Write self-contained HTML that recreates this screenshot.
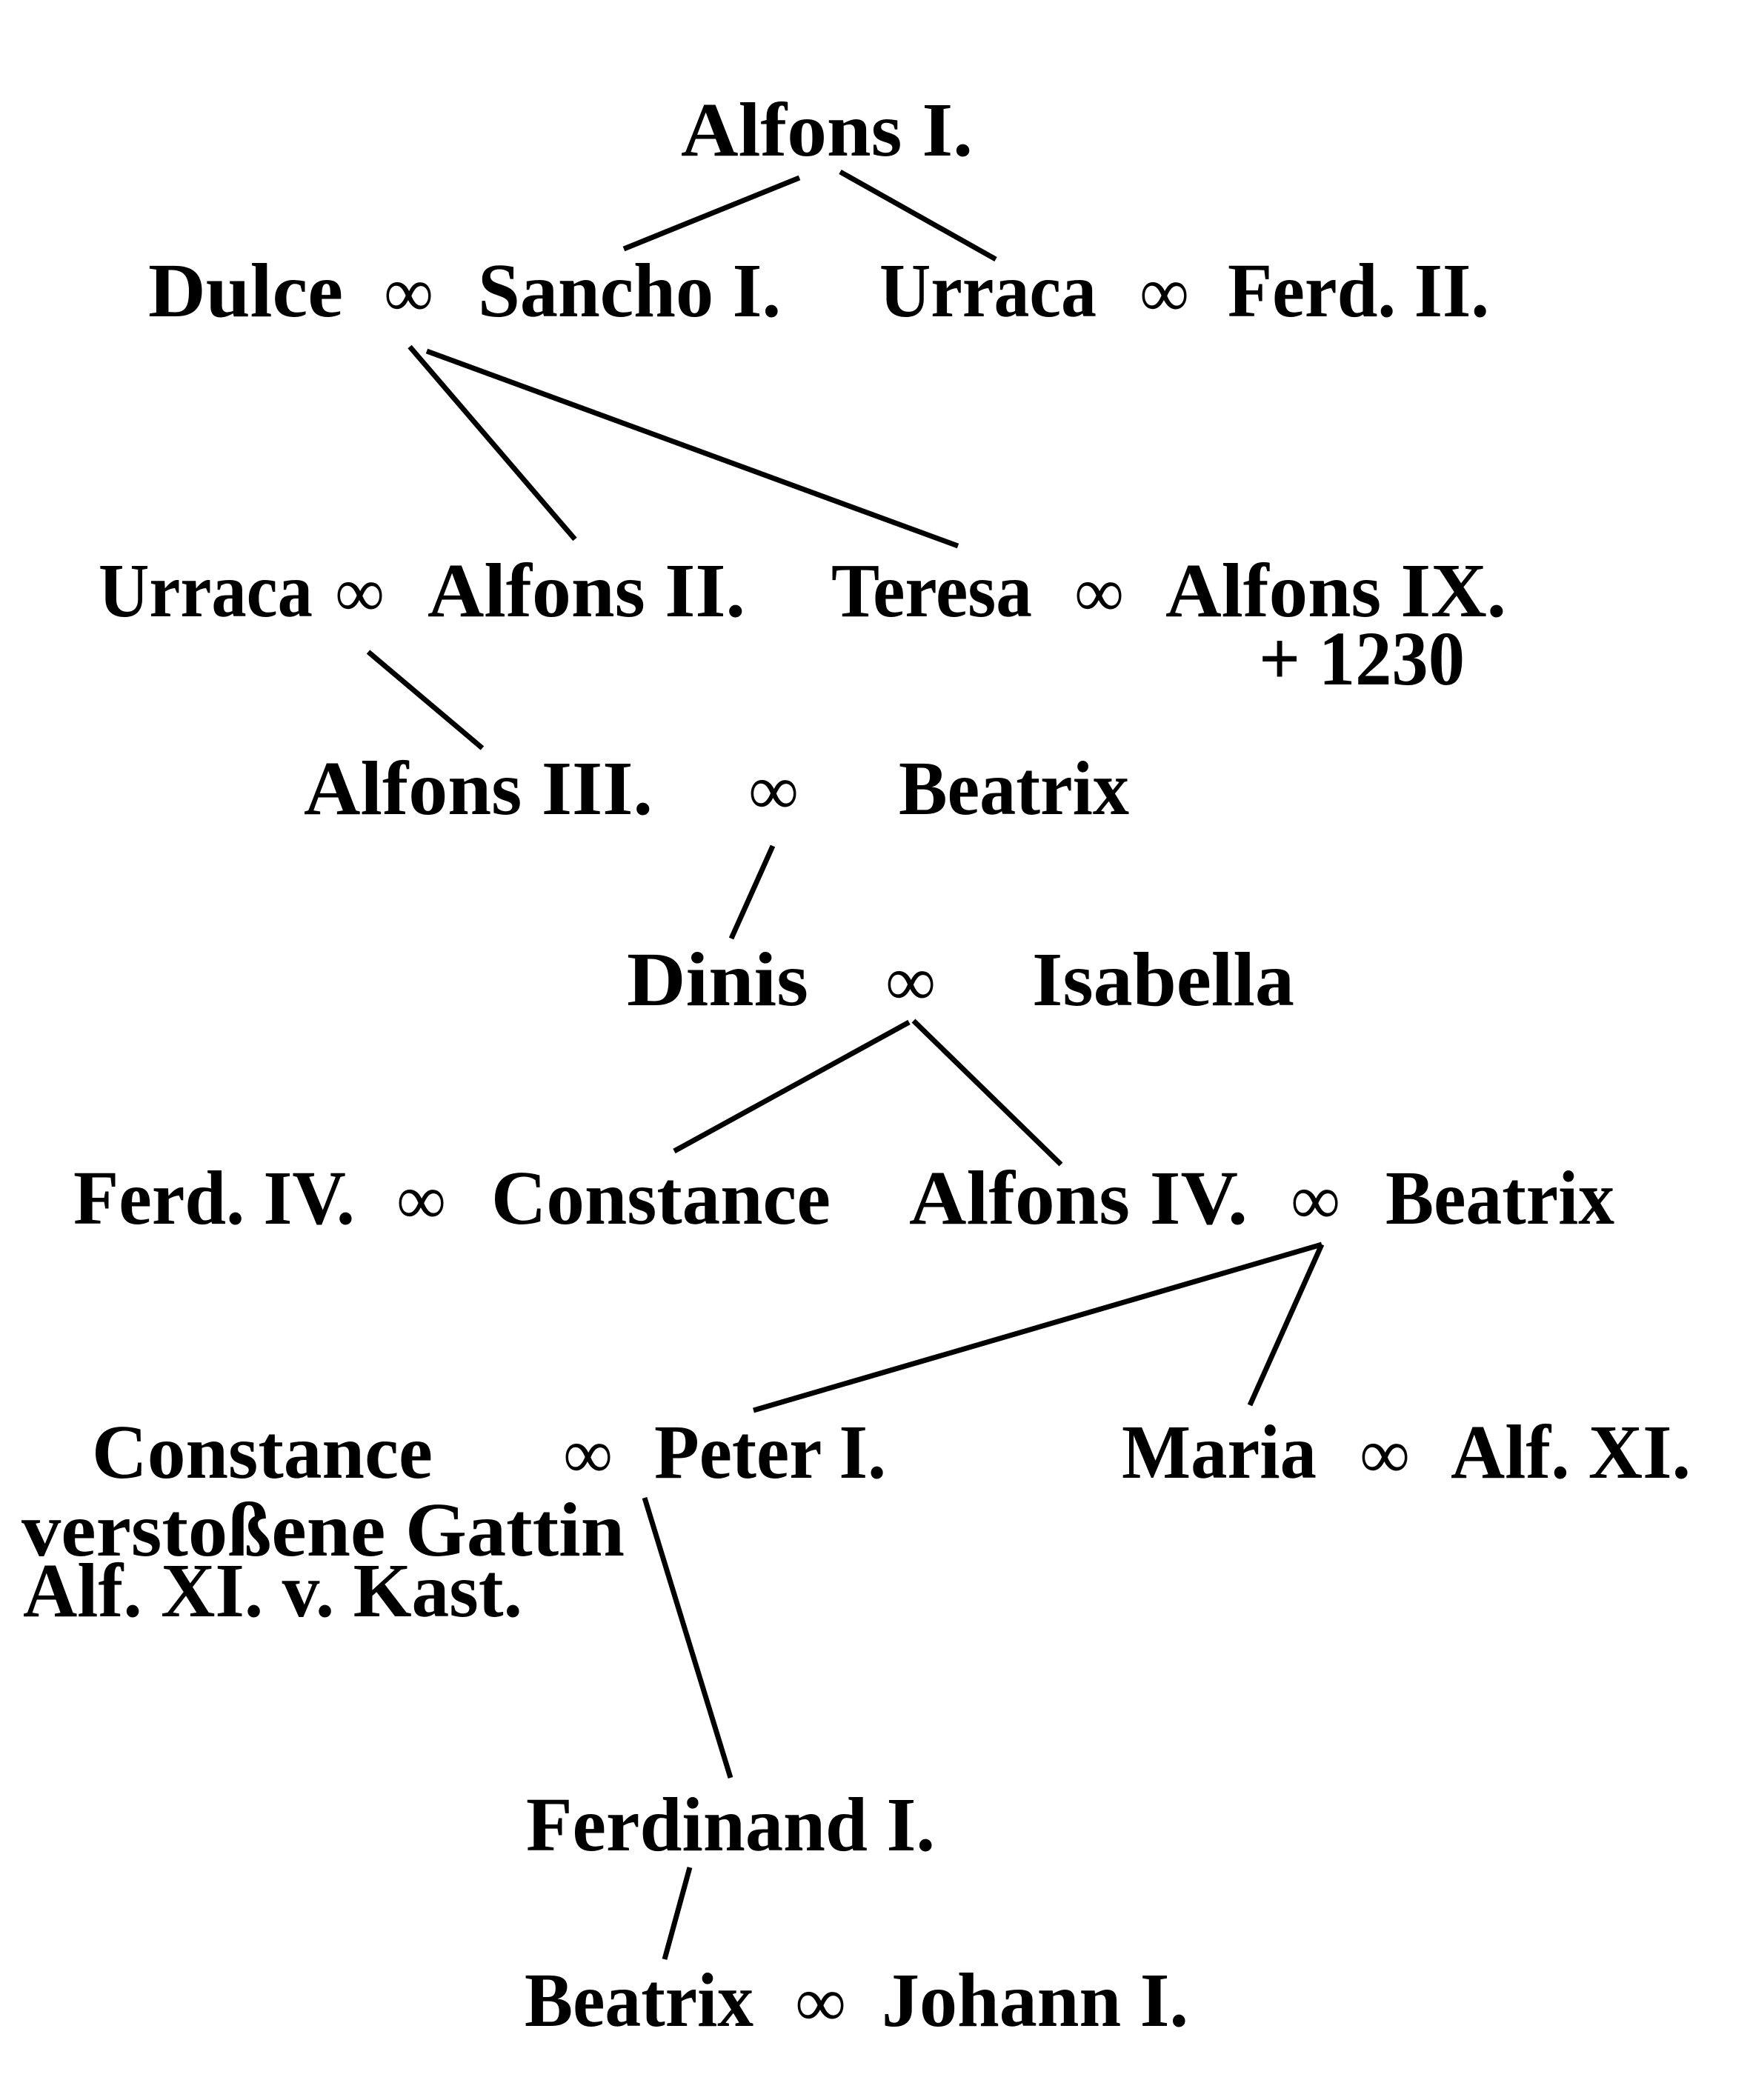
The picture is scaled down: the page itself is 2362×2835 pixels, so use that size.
<!DOCTYPE html>
<html>
<head>
<meta charset="utf-8">
<style>
  html, body { margin: 0; padding: 0; background: #ffffff; }
  svg { display: block; }
  .t { font-family: "Liberation Serif", "DejaVu Serif", serif; font-weight: bold; font-size: 104px; fill: #000; }
  .m { font-family: "Liberation Serif", "DejaVu Serif", serif; font-weight: normal; font-size: 96px; fill: #000; }
  line { stroke: #000; stroke-width: 7; stroke-linecap: butt; }
</style>
</head>
<body>
<svg width="2362" height="2835" viewBox="0 0 2362 2835" xmlns="http://www.w3.org/2000/svg">
  <rect x="0" y="0" width="2362" height="2835" fill="#ffffff"/>

  <!-- Row 1 -->
  <text class="t" x="919" y="210" textLength="394" lengthAdjust="spacingAndGlyphs">Alfons I.</text>

  <!-- Row 2 -->
  <text class="t" x="200" y="427" textLength="263" lengthAdjust="spacingAndGlyphs">Dulce</text>
  <text class="m" x="518" y="427" textLength="67" lengthAdjust="spacingAndGlyphs">∞</text>
  <text class="t" x="645" y="427" textLength="409" lengthAdjust="spacingAndGlyphs">Sancho I.</text>
  <text class="t" x="1187" y="427" textLength="293" lengthAdjust="spacingAndGlyphs">Urraca</text>
  <text class="m" x="1538" y="427" textLength="67" lengthAdjust="spacingAndGlyphs">∞</text>
  <text class="t" x="1657" y="427" textLength="353" lengthAdjust="spacingAndGlyphs">Ferd. II.</text>

  <!-- Row 3 -->
  <text class="t" x="133" y="832" textLength="289" lengthAdjust="spacingAndGlyphs">Urraca</text>
  <text class="m" x="452" y="832" textLength="67" lengthAdjust="spacingAndGlyphs">∞</text>
  <text class="t" x="577" y="832" textLength="429" lengthAdjust="spacingAndGlyphs">Alfons II.</text>
  <text class="t" x="1122" y="832" textLength="271" lengthAdjust="spacingAndGlyphs">Teresa</text>
  <text class="m" x="1450" y="832" textLength="67" lengthAdjust="spacingAndGlyphs">∞</text>
  <text class="t" x="1573" y="832" textLength="460" lengthAdjust="spacingAndGlyphs">Alfons IX.</text>
  <text class="t" x="1699" y="924" textLength="278" lengthAdjust="spacingAndGlyphs">+ 1230</text>

  <!-- Row 4 -->
  <text class="t" x="410" y="1099" textLength="471" lengthAdjust="spacingAndGlyphs">Alfons III.</text>
  <text class="m" x="1010" y="1099" textLength="68" lengthAdjust="spacingAndGlyphs">∞</text>
  <text class="t" x="1213" y="1099" textLength="311" lengthAdjust="spacingAndGlyphs">Beatrix</text>

  <!-- Row 5 -->
  <text class="t" x="846" y="1357" textLength="245" lengthAdjust="spacingAndGlyphs">Dinis</text>
  <text class="m" x="1195" y="1357" textLength="68" lengthAdjust="spacingAndGlyphs">∞</text>
  <text class="t" x="1393" y="1357" textLength="354" lengthAdjust="spacingAndGlyphs">Isabella</text>

  <!-- Row 6 -->
  <text class="t" x="99" y="1652" textLength="380" lengthAdjust="spacingAndGlyphs">Ferd. IV.</text>
  <text class="m" x="535" y="1652" textLength="67" lengthAdjust="spacingAndGlyphs">∞</text>
  <text class="t" x="663" y="1652" textLength="458" lengthAdjust="spacingAndGlyphs">Constance</text>
  <text class="t" x="1227" y="1652" textLength="457" lengthAdjust="spacingAndGlyphs">Alfons IV.</text>
  <text class="m" x="1742" y="1652" textLength="67" lengthAdjust="spacingAndGlyphs">∞</text>
  <text class="t" x="1870" y="1652" textLength="309" lengthAdjust="spacingAndGlyphs">Beatrix</text>

  <!-- Row 7 -->
  <text class="t" x="124" y="1995" textLength="460" lengthAdjust="spacingAndGlyphs">Constance</text>
  <text class="m" x="760" y="1995" textLength="67" lengthAdjust="spacingAndGlyphs">∞</text>
  <text class="t" x="883" y="1995" textLength="313" lengthAdjust="spacingAndGlyphs">Peter I.</text>
  <text class="t" x="1514" y="1995" textLength="263" lengthAdjust="spacingAndGlyphs">Maria</text>
  <text class="m" x="1835" y="1995" textLength="68" lengthAdjust="spacingAndGlyphs">∞</text>
  <text class="t" x="1958" y="1995" textLength="324" lengthAdjust="spacingAndGlyphs">Alf. XI.</text>
  <text class="t" x="29" y="2100" textLength="814" lengthAdjust="spacingAndGlyphs">verstoßene Gattin</text>
  <text class="t" x="31" y="2182" textLength="674" lengthAdjust="spacingAndGlyphs">Alf. XI. v. Kast.</text>

  <!-- Row 8 -->
  <text class="t" x="710" y="2498" textLength="552" lengthAdjust="spacingAndGlyphs">Ferdinand I.</text>

  <!-- Row 9 -->
  <text class="t" x="708" y="2735" textLength="309" lengthAdjust="spacingAndGlyphs">Beatrix</text>
  <text class="m" x="1073" y="2735" textLength="69" lengthAdjust="spacingAndGlyphs">∞</text>
  <text class="t" x="1190" y="2735" textLength="414" lengthAdjust="spacingAndGlyphs">Johann I.</text>

  <!-- Connectors -->
  <line x1="1079" y1="240" x2="842" y2="336"/>
  <line x1="1134" y1="232" x2="1344" y2="350"/>
  <line x1="553" y1="468" x2="776" y2="728"/>
  <line x1="576" y1="474" x2="1293" y2="737"/>
  <line x1="497" y1="880" x2="651" y2="1010"/>
  <line x1="1043" y1="1142" x2="987" y2="1267"/>
  <line x1="1227" y1="1380" x2="910" y2="1554"/>
  <line x1="1233" y1="1378" x2="1432" y2="1572"/>
  <line x1="1784" y1="1680" x2="1017" y2="1904"/>
  <line x1="1784" y1="1680" x2="1687" y2="1897"/>
  <line x1="870" y1="2022" x2="986" y2="2400"/>
  <line x1="931" y1="2521" x2="897" y2="2645"/>
</svg>
</body>
</html>
